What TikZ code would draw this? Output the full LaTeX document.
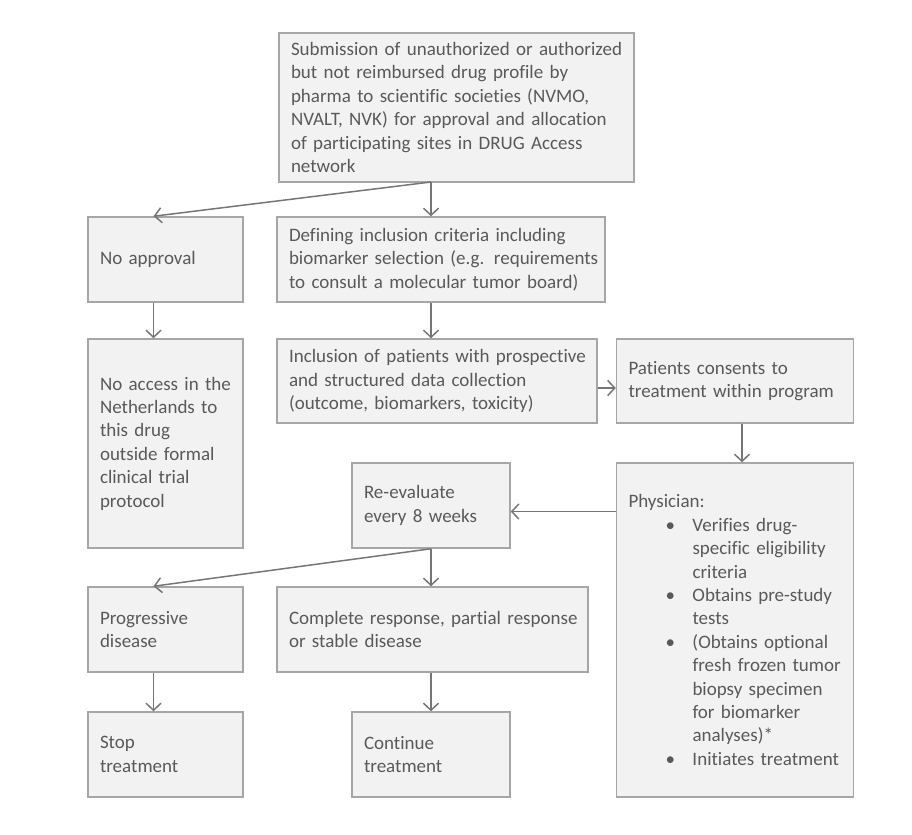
\documentclass[tikz,border=0pt]{standalone}
\usepackage{fontspec}
\setmainfont{Carlito}[Ligatures=NoCommon]
\usepackage{tikz}
\usetikzlibrary{arrows.meta,positioning}
\definecolor{boxfill}{RGB}{242,242,242}
\definecolor{boxline}{RGB}{166,166,166}
\definecolor{ink}{RGB}{89,89,89}
\definecolor{wire}{RGB}{118,118,118}
\newcommand{\boxpad}{\leftskip 6pt\relax\hyphenpenalty 10000\relax}
\newcommand{\pbul}{\hspace*{18.5pt}\makebox[13.5pt][l]{\textbullet}}
\newcommand{\pind}{\hspace*{32pt}}

\begin{document}
\begin{tikzpicture}[x=0.5pt, y=-0.5pt,
    box/.style={draw=boxline, fill=boxfill, line width=0.75pt, rectangle,
      inner xsep=0pt, inner ysep=2pt, align=left, text=ink,
      font=\fontsize{9.5}{11.7}\selectfont, execute at begin node=\boxpad},
    arr/.style={draw=wire, line width=0.75pt,
      -{Straight Barb[length=3.5pt, width=7.5pt, line width=0.75pt]}}]
    \useasboundingbox (0,0) rectangle (912,835);
    % boxes
    \node[box, text width=177.5pt, minimum height=74.5pt] (submit) at (456.5,107.5)
      {Submission of unauthorized or authorized\\ but not reimbursed drug profile by\\
       pharma to scientific societies (NVMO,\\ NVALT, NVK) for approval and allocation\\
       of participating sites in DRUG Access\\ network};
    \node[box, text width=77.5pt, minimum height=42.5pt] (noappr) at (165.5,259.5)
      {No approval};
    \node[box, text width=164pt, minimum height=42.5pt] (define) at (441,259.5)
      {Defining inclusion criteria including\\ biomarker selection (e.g. requirements\\
       to consult a molecular tumor board)};
    \node[box, text width=77.5pt, minimum height=104.5pt] (noaccess) at (165.5,443.5)
      {No access in the\\ Netherlands to\\ this drug\\ outside formal\\ clinical trial\\ protocol};
    \node[box, text width=160pt, minimum height=42pt] (inclusion) at (437,381)
      {Inclusion of patients with prospective\\ and structured data collection\\
       (outcome, biomarkers, toxicity)};
    \node[box, text width=118.5pt, minimum height=42pt] (consent) at (735,381)
      {Patients consents to\\ treatment within program};
    \node[box, text width=79pt, minimum height=42.5pt] (reeval) at (431,505.5)
      {Re-evaluate\\ every 8 weeks};
    \node[box, text width=118.5pt, minimum height=167pt] (physician) at (735,630)
      {Physician:\\
       \pbul Verifies drug-\\ \pind specific eligibility\\ \pind criteria\\
       \pbul Obtains pre-study\\ \pind tests\\
       \pbul (Obtains optional\\ \pind fresh frozen tumor\\ \pind biopsy specimen\\
       \pind for biomarker\\ \pind analyses)*\\
       \pbul Initiates treatment};
    \node[box, text width=77.5pt, minimum height=42.5pt] (progressive) at (165.5,629.5)
      {Progressive\\ disease};
    \node[box, text width=155.5pt, minimum height=42.5pt] (complete) at (432.5,629.5)
      {Complete response, partial response\\ or stable disease};
    \node[box, text width=77.5pt, minimum height=42.5pt] (stop) at (165.5,754.5)
      {Stop\\ treatment};
    \node[box, text width=79pt, minimum height=42.5pt] (continue) at (431,754.5)
      {Continue\\ treatment};
    % connectors
    \coordinate (split) at (431,182);
    \coordinate (backin) at ([yshift=-3pt]reeval.east);
    \draw[arr] (split) -- (split |- define.north);
    \draw[arr] (split) -- ([xshift=-6pt]noappr.north);
    \draw[arr] ([xshift=-6pt]noappr.south) -- ([xshift=-6pt]noaccess.north);
    \draw[arr] (split |- define.south) -- (split |- inclusion.north);
    \draw[arr] ([yshift=-3.5pt]inclusion.east) -- ([yshift=-3.5pt]consent.west);
    \draw[arr] ([xshift=3.5pt]consent.south) -- ([xshift=3.5pt]physician.north);
    \draw[arr] (physician.west |- backin) -- (backin);
    \draw[arr] (reeval.south) -- (reeval.south |- complete.north);
    \draw[arr] (reeval.south) -- ([xshift=-6pt]progressive.north);
    \draw[arr] ([xshift=-6pt]progressive.south) -- ([xshift=-6pt]stop.north);
    \draw[arr] (continue.north |- complete.south) -- (continue.north);
\end{tikzpicture}
\end{document}
